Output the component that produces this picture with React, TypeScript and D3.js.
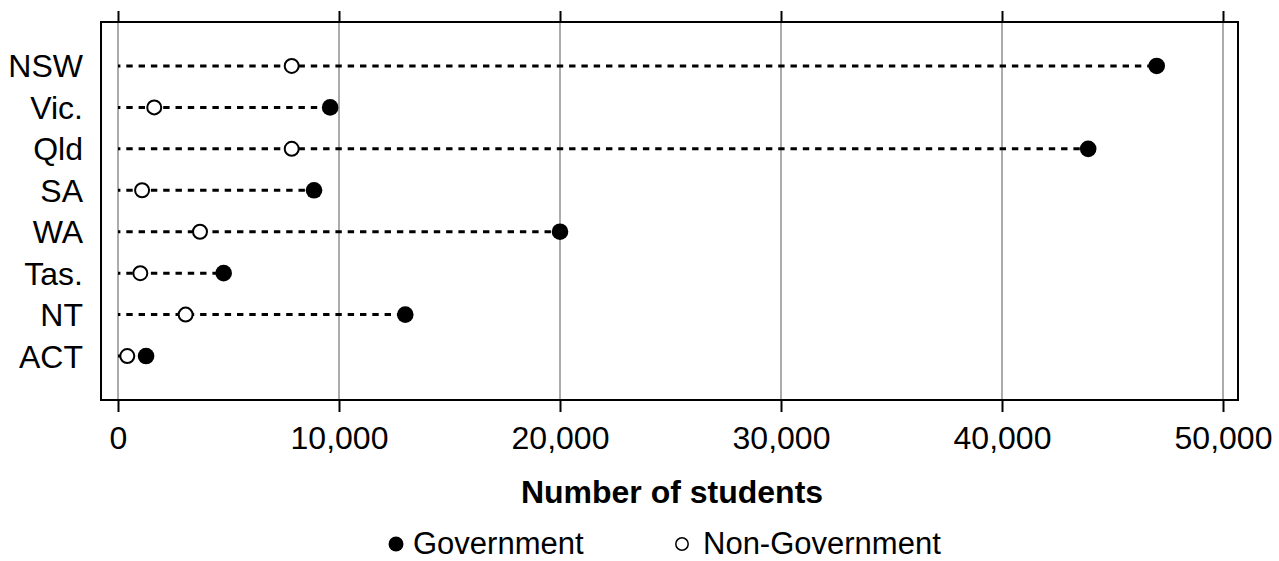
import React, { useRef, useEffect } from 'react';
import * as d3 from 'd3';

const states = ['NSW', 'Vic.', 'Qld', 'SA', 'WA', 'Tas.', 'NT', 'ACT'];
const government = [47000, 9600, 43900, 8870, 20000, 4780, 13000, 1270];
const nonGovernment = [7860, 1640, 7860, 1090, 3710, 1010, 3060, 420];
const xTicks = [0, 10000, 20000, 30000, 40000, 50000];

const W = 1279;
const H = 561;
const FONT = '"Liberation Sans", Arial, Helvetica, sans-serif';

const App = () => {
  const svgRef = useRef<SVGSVGElement>(null);

  useEffect(() => {
    const svg = d3.select(svgRef.current);
    svg.selectAll('*').remove();

    const box = { left: 101, right: 1238, top: 22, bottom: 400 };

    const x = d3.scaleLinear().domain([0, 50000]).range([118, 1223]);
    const y = d3
      .scalePoint<string>()
      .domain(states)
      .range([box.top, box.bottom])
      .padding(1.06);

    // gridlines
    svg
      .append('g')
      .selectAll('line')
      .data(xTicks)
      .join('line')
      .attr('x1', (d) => x(d))
      .attr('x2', (d) => x(d))
      .attr('y1', box.top)
      .attr('y2', box.bottom)
      .attr('stroke', '#a3a3a3')
      .attr('stroke-width', 1.8);

    // frame
    svg
      .append('rect')
      .attr('x', box.left)
      .attr('y', box.top)
      .attr('width', box.right - box.left)
      .attr('height', box.bottom - box.top)
      .attr('fill', 'none')
      .attr('stroke', '#000')
      .attr('stroke-width', 2);

    // bottom axis
    const bottom = svg
      .append('g')
      .attr('transform', `translate(0,${box.bottom})`)
      .call(
        d3
          .axisBottom(x)
          .tickValues(xTicks)
          .tickSize(12)
          .tickPadding(14)
          .tickFormat((d) => d3.format(',')(d as number))
      );
    bottom.select('.domain').remove();
    bottom.selectAll('line').attr('stroke', '#000').attr('stroke-width', 2);
    bottom
      .selectAll('text')
      .attr('font-family', FONT)
      .attr('font-size', 32)
      .attr('fill', '#000');

    // top ticks
    const top = svg
      .append('g')
      .attr('transform', `translate(0,${box.top})`)
      .call(d3.axisTop(x).tickValues(xTicks).tickSize(11).tickFormat(() => ''));
    top.select('.domain').remove();
    top.selectAll('line').attr('stroke', '#000').attr('stroke-width', 2);

    // state labels
    svg
      .append('g')
      .selectAll('text')
      .data(states)
      .join('text')
      .attr('x', 83)
      .attr('y', (d) => (y(d) as number) + 11.5)
      .attr('text-anchor', 'end')
      .attr('font-family', FONT)
      .attr('font-size', 32)
      .text((d) => d);

    // dashed lines
    svg
      .append('g')
      .selectAll('line')
      .data(states)
      .join('line')
      .attr('x1', x(0))
      .attr('x2', (_, i) => x(Math.max(government[i], nonGovernment[i])))
      .attr('y1', (d) => y(d) as number)
      .attr('y2', (d) => y(d) as number)
      .attr('stroke', '#000')
      .attr('stroke-width', 3)
      .attr('stroke-dasharray', '6.4 5.9')
      .attr('stroke-dashoffset', 4);

    // non-government
    svg
      .append('g')
      .selectAll('circle')
      .data(states)
      .join('circle')
      .attr('cx', (_, i) => x(nonGovernment[i]))
      .attr('cy', (d) => y(d) as number)
      .attr('r', 7)
      .attr('fill', '#fff')
      .attr('stroke', '#000')
      .attr('stroke-width', 2);

    // government
    svg
      .append('g')
      .selectAll('circle')
      .data(states)
      .join('circle')
      .attr('cx', (_, i) => x(government[i]))
      .attr('cy', (d) => y(d) as number)
      .attr('r', 8.3)
      .attr('fill', '#000');

    // axis title
    svg
      .append('text')
      .attr('x', 672)
      .attr('y', 503)
      .attr('text-anchor', 'middle')
      .attr('font-family', FONT)
      .attr('font-size', 32)
      .attr('font-weight', 'bold')
      .text('Number of students');

    // legend
    const legend = svg.append('g');
    legend
      .append('circle')
      .attr('cx', 396)
      .attr('cy', 544)
      .attr('r', 7.5)
      .attr('fill', '#000');
    legend
      .append('text')
      .attr('x', 413)
      .attr('y', 554)
      .attr('font-family', FONT)
      .attr('font-size', 31)
      .text('Government');
    legend
      .append('circle')
      .attr('cx', 682)
      .attr('cy', 544)
      .attr('r', 6.2)
      .attr('fill', '#fff')
      .attr('stroke', '#000')
      .attr('stroke-width', 1.5);
    legend
      .append('text')
      .attr('x', 703)
      .attr('y', 554)
      .attr('font-family', FONT)
      .attr('font-size', 31)
      .text('Non-Government');
  }, []);

  return (
    <svg
      ref={svgRef}
      width={W}
      height={H}
      style={{ position: 'absolute', left: 0, top: 0, background: '#fff', display: 'block' }}
    />
  );
};

export default App;
